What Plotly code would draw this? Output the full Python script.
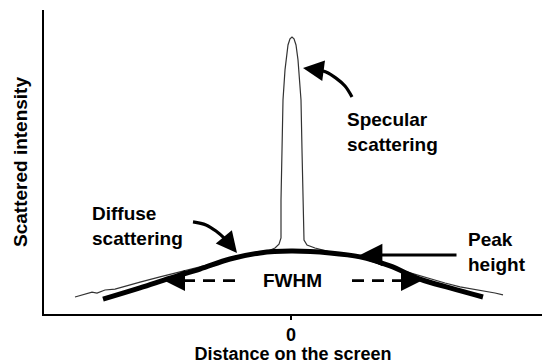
import plotly.graph_objects as go

# Measured profile (screen distance, intensity): diffuse background with a narrow specular spike
profile_x = [-2.16, -2.06, -1.99, -1.94, -1.86, -1.76, -1.66, -1.51, -1.31, -1.11, -0.91, -0.71,
             -0.51, -0.36, -0.23, -0.16, -0.12, -0.10, -0.10, -0.09, -0.08, -0.06, -0.05, -0.03,
             -0.01, 0.01, 0.03, 0.05, 0.07, 0.08, 0.10, 0.11, 0.12, 0.13, 0.16, 0.24, 0.36, 0.49,
             0.69, 0.89, 1.09, 1.29, 1.42, 1.54, 1.69, 1.82, 1.94, 2.04, 2.12]
profile_y = [5.6, 6.6, 7.2, 6.9, 7.9, 8.2, 9.2, 10.5, 12.2, 13.8, 15.5, 17.1,
             18.8, 19.7, 20.7, 21.7, 23.0, 25.0, 37.5, 53.9, 70.4, 80.3, 83.6, 88.5,
             90.5, 91.1, 90.5, 88.5, 83.6, 78.6, 70.4, 53.9, 37.5, 24.3, 22.7, 21.7, 20.7, 19.4,
             18.6, 16.4, 14.5, 12.5, 11.2, 10.2, 8.9, 8.2, 7.6, 6.9, 6.3]

# Smooth diffuse-scattering envelope
diffuse_x = [-1.88, -1.51, -1.21, -0.91, -0.61, -0.31, 0.0, 0.39, 0.69, 0.99, 1.29, 1.59, 1.92]
diffuse_y = [4.9, 8.6, 11.8, 14.8, 18.1, 20.1, 20.7, 20.1, 18.8, 15.8, 11.5, 8.6, 5.6]

# FWHM markers
fwhm_y = 11.0
fwhm_left_x = [-0.56, -1.16]
fwhm_right_x = [0.61, 1.16]
fwhm_left_tip = -1.27
fwhm_right_tip = 1.31

# Pointer curves for the labels
spec_arrow_x = [0.61, 0.54, 0.45, 0.35, 0.23]
spec_arrow_y = [71.4, 75.0, 77.6, 79.6, 80.6]
spec_tip = (0.12, 80.9)
diff_arrow_x = [-0.98, -0.85, -0.75, -0.66, -0.60]
diff_arrow_y = [30.3, 29.3, 27.3, 24.7, 22.4]
diff_tip = (-0.54, 20.1)

peak_tail_x, peak_tip_x, peak_y = 1.67, 0.69, 19.4

FONT = "Liberation Sans, Arial, sans-serif"
fs = 19

fig = go.Figure()
fig.add_trace(go.Scatter(x=profile_x, y=profile_y, mode="lines",
                         line=dict(color="#333333", width=1.2), hoverinfo="skip"))
fig.add_trace(go.Scatter(x=diffuse_x, y=diffuse_y, mode="lines", line_shape="spline",
                         line=dict(color="black", width=5), hoverinfo="skip"))
for xs in (fwhm_left_x, fwhm_right_x):
    fig.add_trace(go.Scatter(x=xs, y=[fwhm_y, fwhm_y], mode="lines",
                             line=dict(color="black", width=2.8, dash="12px,8px"),
                             hoverinfo="skip"))
fig.add_trace(go.Scatter(x=spec_arrow_x, y=spec_arrow_y, mode="lines", line_shape="spline",
                         line=dict(color="black", width=3.2), hoverinfo="skip"))
fig.add_trace(go.Scatter(x=diff_arrow_x, y=diff_arrow_y, mode="lines", line_shape="spline",
                         line=dict(color="black", width=3.2), hoverinfo="skip"))

arrow_common = dict(text="", showarrow=True, arrowhead=2, arrowcolor="black",
                    xref="x", yref="y")
fig.add_annotation(x=fwhm_left_tip, y=fwhm_y, ax=18, ay=0, arrowwidth=2.8, arrowsize=1.5,
                   **arrow_common)
fig.add_annotation(x=fwhm_right_tip, y=fwhm_y, ax=-18, ay=0, arrowwidth=2.8, arrowsize=1.5,
                   **arrow_common)
fig.add_annotation(x=spec_tip[0], y=spec_tip[1], ax=15, ay=2, arrowwidth=3.2, arrowsize=1.3,
                   **arrow_common)
fig.add_annotation(x=diff_tip[0], y=diff_tip[1], ax=-9, ay=-11, arrowwidth=3.2, arrowsize=1.3,
                   **arrow_common)
fig.add_annotation(x=peak_tip_x, y=peak_y, ax=peak_tail_x, ay=peak_y, axref="x", ayref="y",
                   arrowwidth=3.2, arrowsize=1.4, **arrow_common)

label_font = dict(family=FONT, size=fs, color="black")
fig.add_annotation(x=0.54, y=59.9, text="<b>Specular<br>scattering</b>", showarrow=False,
                   xanchor="left", align="left", font=label_font)
fig.add_annotation(x=1.75, y=20.4, text="<b>Peak<br>height</b>", showarrow=False,
                   xanchor="left", align="left", font=label_font)
fig.add_annotation(x=-2.01, y=28.9, text="<b>Diffuse<br>scattering</b>", showarrow=False,
                   xanchor="left", align="left", font=label_font)
fig.add_annotation(x=0.01, y=fwhm_y, text="<b>FWHM</b>", showarrow=False, font=label_font)

fig.update_layout(
    width=542, height=364,
    margin=dict(l=44, r=0, t=10, b=50),
    paper_bgcolor="white", plot_bgcolor="white",
    showlegend=False,
    font=dict(family=FONT, size=fs, color="black"),
    xaxis=dict(range=[-2.47, 2.51], showgrid=False, zeroline=False,
               showline=True, linecolor="black", linewidth=1.5,
               tickmode="array", tickvals=[0], ticktext=["<b>0</b>"],
               tickfont=dict(family=FONT, size=18),
               ticks="outside", ticklen=4, tickwidth=1.5, tickcolor="black",
               title=dict(text="<b>Distance on the screen</b>", standoff=4,
                          font=dict(family=FONT, size=18))),
    yaxis=dict(range=[0, 100], showgrid=False, zeroline=False,
               showline=True, linecolor="black", linewidth=1.5,
               showticklabels=False, ticks="",
               title=dict(text="<b>Scattered intensity</b>", standoff=10,
                          font=dict(family=FONT, size=fs))),
)

fig.write_html("out.html")
